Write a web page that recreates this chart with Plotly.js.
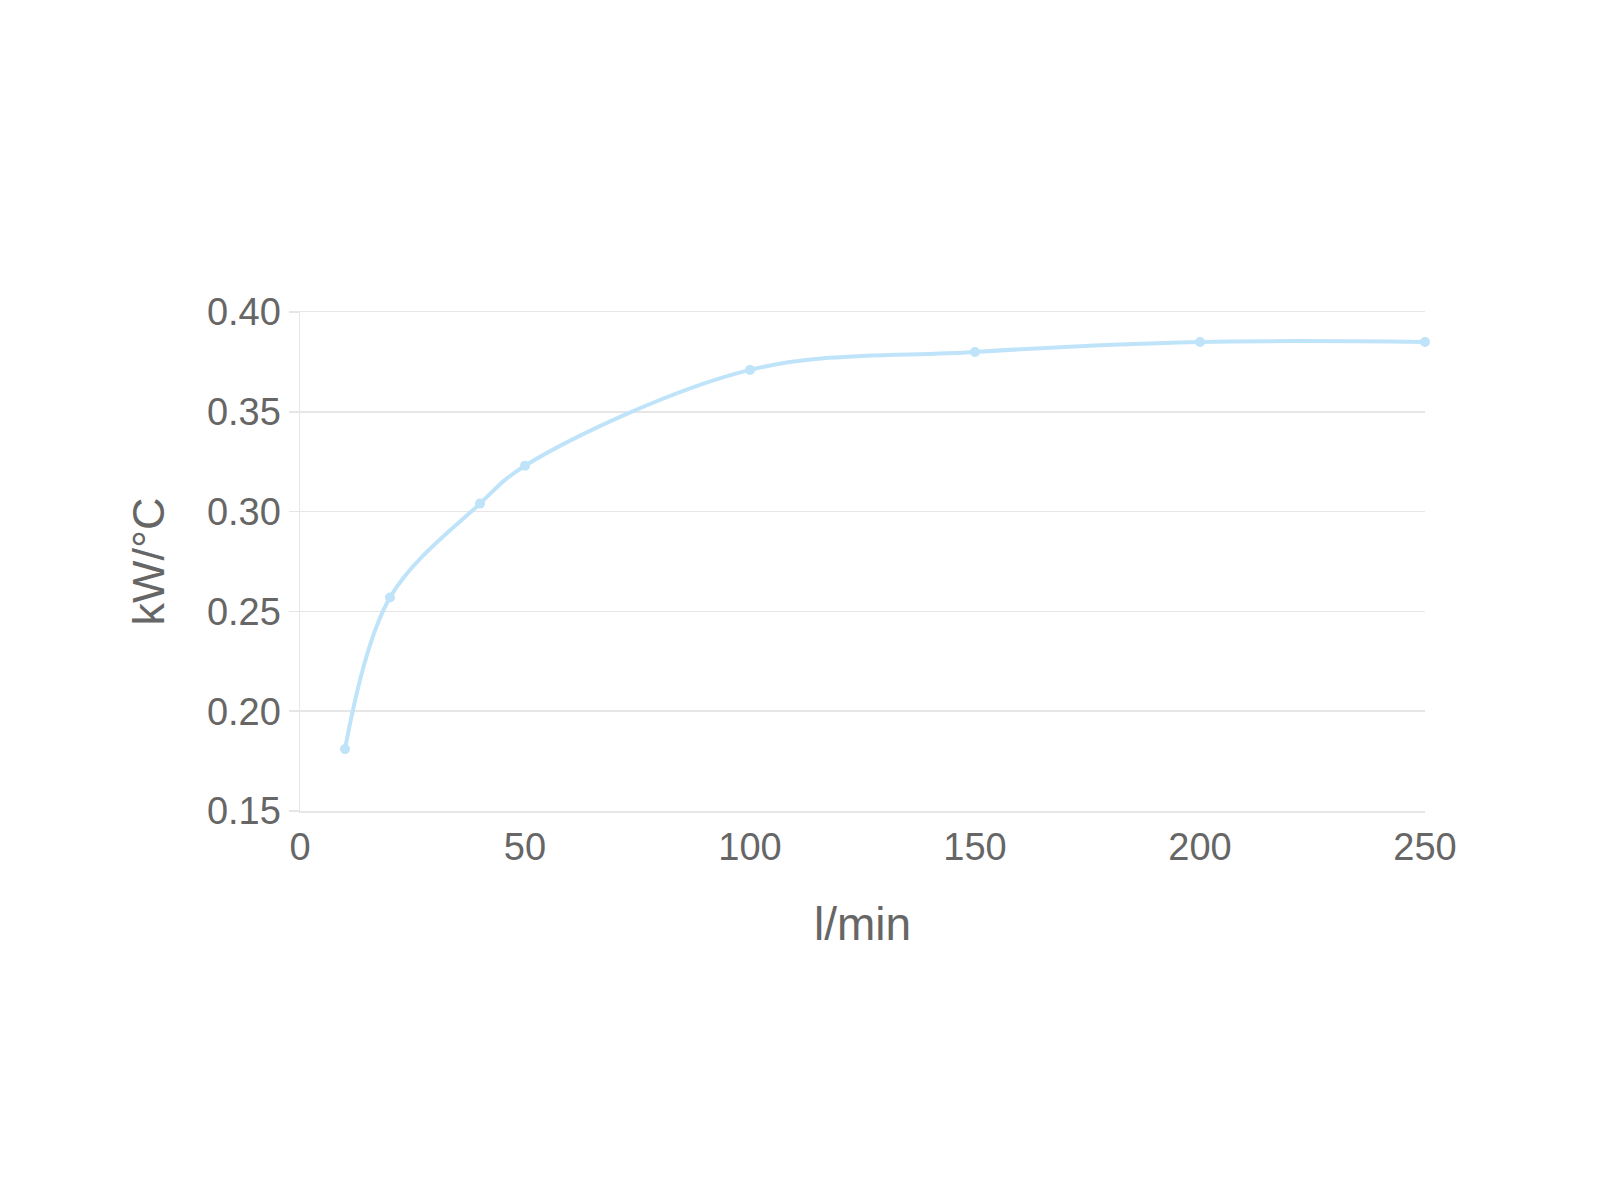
<!DOCTYPE html>
<html>
<head>
<meta charset="utf-8">
<script src="https://cdn.plot.ly/plotly-3.0.1.min.js"></script>
<style>html,body{margin:0;padding:0;background:#fff;}#chart{width:1600px;height:1200px;}</style>
</head>
<body>
<div id="chart"></div>
<script>
const flowRate = [10, 20, 40, 50, 100, 150, 200, 250];
const heatCapacity = [0.181, 0.257, 0.304, 0.323, 0.371, 0.380, 0.385, 0.385];
const xTickValues = [0, 50, 100, 150, 200, 250];
const yTickValues = [0.15, 0.20, 0.25, 0.30, 0.35, 0.40];
const yTickLabels = ["0.15", "0.20", "0.25", "0.30", "0.35", "0.40"];

const trace = {
  x: flowRate,
  y: heatCapacity,
  type: 'scatter',
  mode: 'lines+markers',
  cliponaxis: false,
  line: {color: '#bfe4f9', width: 4, shape: 'spline', smoothing: 1.0},
  marker: {color: '#bfe4f9', size: 10},
  hoverinfo: 'none'
};

const layout = {
  width: 1600,
  height: 1200,
  paper_bgcolor: '#ffffff',
  plot_bgcolor: '#ffffff',
  showlegend: false,
  margin: {l: 300, r: 175, t: 312, b: 389},
  font: {family: 'Liberation Sans, Arial, sans-serif', color: '#666666'},
  xaxis: {
    range: [0, 250],
    tickvals: xTickValues,
    showgrid: false,
    zeroline: false,
    showline: true,
    mirror: true,
    linecolor: '#e6e6e6',
    linewidth: 1.5,
    ticks: '',
    ticklabelstandoff: 2,
    tickfont: {size: 38, color: '#666666'},
    title: {text: 'l/min', font: {size: 46, color: '#666666'}, standoff: 40}
  },
  yaxis: {
    range: [0.15, 0.40],
    tickvals: yTickValues,
    ticktext: yTickLabels,
    showgrid: true,
    gridcolor: '#e6e6e6',
    gridwidth: 1.5,
    zeroline: false,
    showline: true,
    linecolor: '#e6e6e6',
    linewidth: 1.5,
    ticks: 'outside',
    ticklen: 10,
    tickcolor: '#e6e6e6',
    tickwidth: 1.5,
    tickfont: {size: 38, color: '#666666'},
    title: {text: 'kW/°C', font: {size: 45, color: '#666666'}, standoff: 28}
  }
};

Plotly.newPlot('chart', [trace], layout, {displayModeBar: false, staticPlot: true});
</script>
</body>
</html>
